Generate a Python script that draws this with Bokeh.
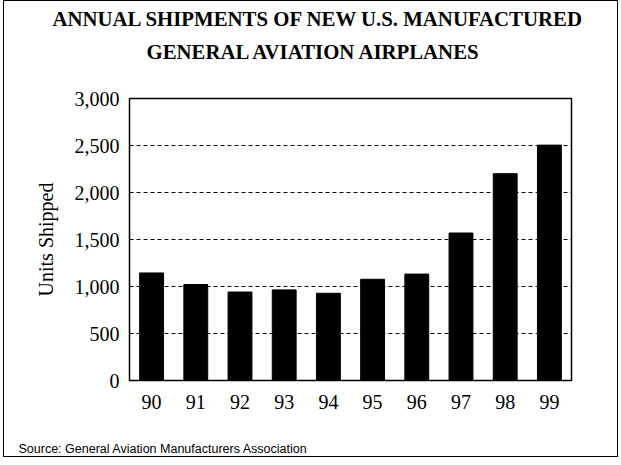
from bokeh.plotting import figure
from bokeh.models import FixedTicker, NumeralTickFormatter, ColumnDataSource, Title
from bokeh.embed import file_html
from bokeh.resources import INLINE

years = ["90", "91", "92", "93", "94", "95", "96", "97", "98", "99"]
units = [1144, 1021, 941, 964, 928, 1077, 1132, 1569, 2200, 2504]
y_ticks = [0, 500, 1000, 1500, 2000, 2500, 3000]
title_lines = ["ANNUAL SHIPMENTS OF NEW U.S. MANUFACTURED", "GENERAL AVIATION AIRPLANES"]
y_label = "Units Shipped"
source_note = "Source: General Aviation Manufacturers Association"

SERIF = "Liberation Serif"
SANS = "Liberation Sans"

p = figure(x_range=years, y_range=(0, 3000), width=615, height=457,
           output_backend="svg", toolbar_location=None,
           min_border_left=125, min_border_right=48, min_border_top=97, min_border_bottom=78,
           styles={"margin-left": "3px", "border": "1px solid black"})
p.x_range.range_padding = 0

src = ColumnDataSource(dict(x=years, top=units))
p.vbar(x="x", top="top", width=0.54, source=src, fill_color="black", line_color="black")

p.outline_line_color = "black"
p.outline_line_width = 1.5
p.xgrid.grid_line_color = None
p.ygrid.ticker = FixedTicker(ticks=y_ticks)
p.ygrid.grid_line_color = "black"
p.ygrid.grid_line_dash = "4 3"
p.ygrid.grid_line_width = 1

p.yaxis.ticker = FixedTicker(ticks=y_ticks)
p.yaxis.formatter = NumeralTickFormatter(format="0,0")
for ax in (p.xaxis[0], p.yaxis[0]):
    ax.axis_line_color = None
    ax.major_tick_line_color = None
    ax.minor_tick_line_color = None
    ax.major_tick_out = 0
    ax.major_tick_in = 0
    ax.major_label_text_font = SERIF
    ax.major_label_text_font_size = "20px"
    ax.major_label_text_color = "black"
p.xaxis.major_label_standoff = 14
p.yaxis.major_label_standoff = 10
p.yaxis.axis_label = y_label
p.yaxis.axis_label_text_font = SERIF
p.yaxis.axis_label_text_font_size = "20px"
p.yaxis.axis_label_text_font_style = "normal"
p.yaxis.axis_label_text_color = "black"
p.yaxis.axis_label_standoff = 15


def spacer(gap):
    return Title(text=" ", text_font_size="1px", standoff=gap)


# above: panels stack outward from the frame in the order they are added
p.add_layout(spacer(28), "above")
for text, off, so in [(title_lines[1], 17, 9), (title_lines[0], -77, 7)]:
    p.add_layout(Title(text=text, align="left", offset=off, standoff=so,
                       text_font=SERIF, text_font_size="20.8px", text_font_style="bold",
                       text_color="black"), "above")

# below: x axis, then a gap, then the source note
p.add_layout(spacer(23), "below")
p.add_layout(Title(text=source_note, align="left", offset=-111, standoff=4,
                   text_font=SANS, text_font_size="12.5px", text_font_style="normal",
                   text_color="black"), "below")

open("out.html", "w").write(file_html(p, INLINE))
